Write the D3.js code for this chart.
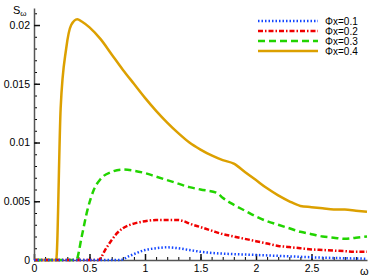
<!DOCTYPE html>
<html>
<head>
<meta charset="utf-8">
<script src="https://cdn.jsdelivr.net/npm/d3@7"></script>
<style>
  body { margin: 0; background: #fff; }
  text { font-family: "Liberation Sans", Arial, sans-serif; }
</style>
</head>
<body>
<div id="chart"></div>
<script>
// omega values and spectra
var omegaBlue  = [0, 0.78, 0.85, 0.9, 1.0, 1.1, 1.2, 1.3, 1.4, 1.5, 1.6, 1.8, 2.0, 2.2, 2.4, 2.6, 2.8, 3.0];
var phi01      = [0, 0, 0.0003, 0.0005, 0.00085, 0.001, 0.00108, 0.001, 0.00085, 0.0007, 0.0006, 0.0005, 0.00043, 0.00035, 0.00027, 0.0002, 0.00015, 0.00011];

var omegaRed   = [0, 0.58, 0.65, 0.7, 0.75, 0.8, 0.9, 1.0, 1.1, 1.2, 1.3, 1.35, 1.4, 1.5, 1.6, 1.7, 1.8, 1.9, 2.0, 2.1, 2.2, 2.3, 2.4, 2.5, 2.6, 2.7, 2.8, 2.9, 3.0];
var phi02      = [0, 0, 0.001, 0.0017, 0.0023, 0.0027, 0.0031, 0.0033, 0.0034, 0.0034, 0.0034, 0.0033, 0.0031, 0.0028, 0.0025, 0.0022, 0.002, 0.0018, 0.0016, 0.0014, 0.0012, 0.0011, 0.001, 0.0009, 0.00085, 0.0008, 0.00075, 0.0007, 0.0007];

var omegaGreen = [0, 0.38, 0.43, 0.48, 0.54, 0.6, 0.7, 0.8, 0.9, 1.0, 1.1, 1.2, 1.3, 1.4, 1.5, 1.65, 1.7, 1.8, 1.9, 2.0, 2.1, 2.2, 2.3, 2.4, 2.5, 2.6, 2.7, 2.8, 2.9, 3.0];
var phi03      = [0, 0, 0.002, 0.0042, 0.006, 0.0069, 0.0075, 0.0077, 0.0076, 0.0074, 0.0071, 0.0068, 0.0065, 0.0062, 0.006, 0.0057, 0.0053, 0.0047, 0.0042, 0.0037, 0.0033, 0.003, 0.0027, 0.0024, 0.0022, 0.002, 0.0019, 0.0018, 0.0019, 0.002];

var omegaGold  = [0, 0.2, 0.24, 0.29, 0.335, 0.39, 0.43, 0.5, 0.6, 0.7, 0.8, 0.9, 1.0, 1.1, 1.2, 1.3, 1.4, 1.5, 1.6, 1.7, 1.8, 1.9, 2.0, 2.1, 2.2, 2.3, 2.4, 2.5, 2.6, 2.7, 2.8, 2.9, 3.0];
var phi04      = [0, 0, 0.0129, 0.018, 0.02, 0.0205, 0.0203, 0.0198, 0.0188, 0.0175, 0.0162, 0.015, 0.0138, 0.0127, 0.0117, 0.0108, 0.01, 0.0094, 0.0089, 0.0085, 0.0082, 0.0075, 0.0068, 0.0061, 0.0055, 0.005, 0.0046, 0.0045, 0.0044, 0.0043, 0.0043, 0.0042, 0.0041];

var seriesNames = ["\u03A6x=0.1", "\u03A6x=0.2", "\u03A6x=0.3", "\u03A6x=0.4"];
var xTicks = [0, 0.5, 1, 1.5, 2, 2.5];
var xTickLabels = ["0", "0.5", "1", "1.5", "2", "2.5"];
var yTicks = [0, 0.005, 0.01, 0.015, 0.02];
var yTickLabels = ["0", "0.005", "0.01", "0.015", "0.02"];

var styles = [
    { color: "#1447ff", dash: "1.5,2" },
    { color: "#f00000", dash: "5,2,1.5,2" },
    { color: "#22d400", dash: "7,4" },
    { color: "#dca000", dash: null }
];

var margin = { top: 8, right: 7, bottom: 19, left: 34 },
    width = 374 - margin.left - margin.right,
    height = 279 - margin.top - margin.bottom;

var svg = d3.select("#chart")
    .append("svg")
    .attr("width", 374)
    .attr("height", 279)
    .append("g")
    .attr("transform", "translate(" + margin.left + "," + margin.top + ")");

var x = d3.scaleLinear().domain([0, 3]).range([0, width]);
var y = d3.scaleLinear().domain([0, 0.02145]).range([height, 0]);

// minor ticks first
svg.append("g")
    .attr("transform", "translate(0," + height + ")")
    .call(d3.axisBottom(x).tickValues(d3.range(0, 30).map(function (i) { return i / 10; }))
        .tickSize(-3).tickFormat(""))
    .call(function (g) { g.select(".domain").remove(); });

svg.append("g")
    .call(d3.axisLeft(y).tickValues(d3.range(0, 22).map(function (i) { return i / 1000; }))
        .tickSize(-3).tickFormat(""))
    .call(function (g) { g.select(".domain").remove(); });

// major ticks with labels
var xAxis = svg.append("g")
    .attr("transform", "translate(0," + height + ")")
    .call(d3.axisBottom(x).tickValues(xTicks)
        .tickFormat(function (d, i) { return xTickLabels[i]; })
        .tickSizeInner(-6).tickSizeOuter(0).tickPadding(5));

var yAxis = svg.append("g")
    .call(d3.axisLeft(y).tickValues(yTicks)
        .tickFormat(function (d, i) { return yTickLabels[i]; })
        .tickSizeInner(-6).tickSizeOuter(0).tickPadding(4));

[xAxis, yAxis].forEach(function (g) {
    g.selectAll("text").style("font-size", "10.5px").style("fill", "#000");
    g.selectAll("line").style("stroke", "#111").style("stroke-width", 1.5);
    g.select(".domain").style("stroke", "#555").style("stroke-width", 1.5);
});

// curves
var xs = [omegaBlue, omegaRed, omegaGreen, omegaGold];
var ys = [phi01, phi02, phi03, phi04];

var line = d3.line()
    .x(function (d) { return x(d[0]); })
    .y(function (d) { return y(d[1]); })
    .curve(d3.curveMonotoneX);

ys.slice().reverse().forEach(function (vals, k) {
    var i = 3 - k;
    svg.append("path")
        .datum(vals.map(function (v, j) { return [xs[i][j], v]; }))
        .attr("fill", "none")
        .attr("stroke", styles[i].color)
        .attr("stroke-width", 2.5)
        .attr("stroke-dasharray", styles[i].dash)
        .attr("d", line);
});

// axis titles
var ylab = svg.append("text")
    .attr("x", -21)
    .attr("y", 6)
    .style("font-size", "11px");
ylab.append("tspan").text("S");
ylab.append("tspan").attr("dy", 2).style("font-size", "8px").text("\u03C9");

svg.append("text")
    .attr("x", width - 7)
    .attr("y", height + 15)
    .style("font-size", "11px")
    .text("\u03C9");

// legend
var legend = svg.selectAll(".legend")
    .data(seriesNames)
    .enter().append("g")
    .attr("class", "legend")
    .attr("transform", function (d, i) { return "translate(" + (258 - margin.left) + "," + (13 + i * 10) + ")"; });

legend.append("line")
    .attr("x1", 0)
    .attr("x2", 60)
    .attr("stroke", function (d, i) { return styles[i].color; })
    .attr("stroke-width", 2.5)
    .attr("stroke-dasharray", function (d, i) { return styles[i].dash; });

legend.append("text")
    .attr("x", 67)
    .attr("dy", "0.35em")
    .style("font-size", "10px")
    .text(function (d) { return d; });
</script>
</body>
</html>
